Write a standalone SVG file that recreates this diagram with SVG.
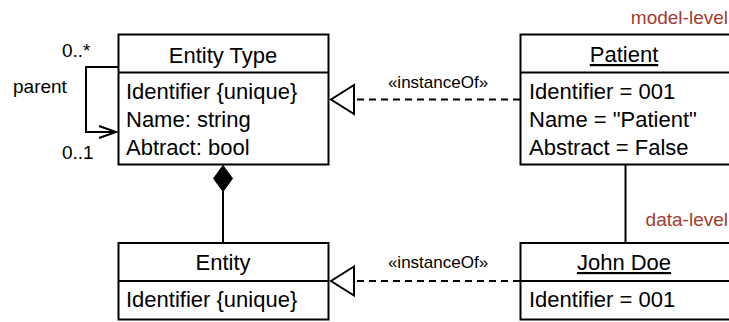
<svg xmlns="http://www.w3.org/2000/svg" width="729" height="322" viewBox="0 0 729 322">
<style>
text{font-family:"Liberation Sans",Arial,sans-serif;fill:#000}
.t{font-size:22px}
.c{text-anchor:middle}
.u{text-decoration:underline}
.s{font-size:19px}
.lbl{font-size:17px}
.lvl{font-size:19px;fill:#a23b2f;text-anchor:end}
.box{fill:#fff;stroke:#000;stroke-width:2}
.ln{fill:none;stroke:#000;stroke-width:2}
.dash{fill:none;stroke:#000;stroke-width:2;stroke-dasharray:7 5}
.tri{fill:#fff;stroke:#000;stroke-width:2;stroke-linejoin:miter}
</style>
<rect width="729" height="322" fill="#fff"/>
<g id="connectors">
<path class="ln" d="M118,67 H86 V132 H116"/>
<path class="ln" d="M99,126 L116,132 L99,138"/>
<line class="ln" x1="223" y1="191" x2="223" y2="243"/>
<path d="M223,165.5 L232.5,178.5 L223,191.5 L213.5,178.5 Z" fill="#000" stroke="#000" stroke-width="1"/>
<line class="dash" x1="520" y1="99.5" x2="354" y2="99.5"/>
<path class="tri" d="M354,85 L331,99.5 L354,114 Z"/>
<line class="dash" x1="520" y1="281" x2="354" y2="281"/>
<path class="tri" d="M354,266.5 L331,281 L354,295.5 Z"/>
<line class="ln" x1="625.5" y1="164.5" x2="625.5" y2="243"/>
<text class="lbl c" x="438" y="88">«instanceOf»</text>
<text class="lbl c" x="438" y="268">«instanceOf»</text>
<text class="s" x="62" y="57">0..*</text>
<text class="s" x="13" y="93">parent</text>
<text class="s" x="62" y="159">0..1</text>
</g>
<g id="entity-type">
<rect class="box" x="118.5" y="34.5" width="210" height="130"/>
<line class="ln" x1="118.5" y1="72.5" x2="328.5" y2="72.5"/>
<text class="t c" x="223" y="63">Entity Type</text>
<text class="t" x="126" y="99">Identifier {unique}</text>
<text class="t" x="126" y="127">Name: string</text>
<text class="t" x="126" y="155">Abtract: bool</text>
</g>
<g id="entity">
<rect class="box" x="118.5" y="243" width="210" height="76.5"/>
<line class="ln" x1="118.5" y1="281" x2="328.5" y2="281"/>
<text class="t c" x="223" y="270">Entity</text>
<text class="t" x="126" y="307">Identifier {unique}</text>
</g>
<g id="patient">
<rect class="box" x="520.5" y="34.5" width="210" height="130"/>
<line class="ln" x1="520.5" y1="72.5" x2="730.5" y2="72.5"/>
<text class="t c u" x="624" y="62">Patient</text>
<text class="t" x="529" y="99">Identifier = 001</text>
<text class="t" x="529" y="127">Name = "Patient"</text>
<text class="t" x="529" y="155">Abstract = False</text>
</g>
<g id="john-doe">
<rect class="box" x="520.5" y="243" width="210" height="76.5"/>
<line class="ln" x1="520.5" y1="281" x2="730.5" y2="281"/>
<text class="t c u" x="624" y="270">John Doe</text>
<text class="t" x="529" y="307">Identifier = 001</text>
</g>
<g id="level-labels">
<text class="lvl" x="728" y="24">model-level</text>
<text class="lvl" x="728" y="226">data-level</text>
</g>
</svg>
